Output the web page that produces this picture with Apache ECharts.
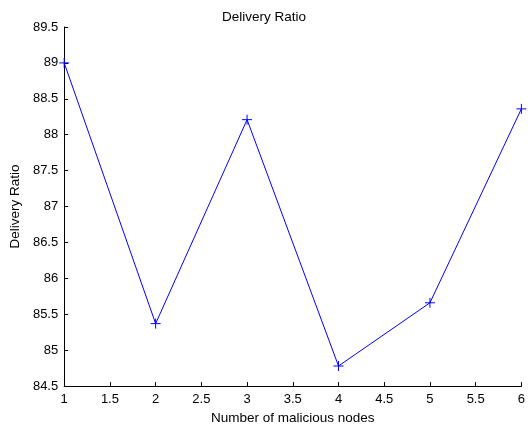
<!DOCTYPE html>
<html>
<head>
<meta charset="utf-8">
<script src="https://cdn.jsdelivr.net/npm/echarts@6/dist/echarts.min.js"></script>
<style>
  html, body { margin: 0; padding: 0; background: #fff; }
  #chart { width: 528px; height: 430px; }
</style>
</head>
<body>
<div id="chart"></div>
<script>
// Number of malicious nodes vs delivery ratio
const maliciousNodes = [1, 2, 3, 4, 5, 6];
const deliveryRatio = [89.0, 85.37, 88.21, 84.78, 85.66, 88.36];

const chart = echarts.init(document.getElementById('chart'));
const font = 'Liberation Sans, Arial, sans-serif';

chart.setOption({
  animation: false,
  backgroundColor: '#fff',
  title: {
    text: 'Delivery Ratio',
    left: 'center',
    top: 5,
    textStyle: { fontFamily: font, fontSize: 13.5, fontWeight: 'normal', color: '#000' }
  },
  grid: { left: 62, right: 5, top: 27, bottom: 41, containLabel: false },
  xAxis: {
    type: 'value',
    min: 1, max: 6, interval: 0.5,
    name: 'Number of malicious nodes',
    nameLocation: 'middle',
    nameGap: 24,
    nameTextStyle: { fontFamily: font, fontSize: 13.5, color: '#000' },
    axisLine: { lineStyle: { color: '#000', width: 1 } },
    axisTick: { inside: true, length: 4, lineStyle: { color: '#000' } },
    axisLabel: { fontFamily: font, fontSize: 13, color: '#000', margin: 7 },
    splitLine: { show: false }
  },
  yAxis: {
    type: 'value',
    min: 84.5, max: 89.5, interval: 0.5,
    name: 'Delivery Ratio',
    nameLocation: 'middle',
    nameGap: 37,
    nameRotate: 90,
    nameTextStyle: { fontFamily: font, fontSize: 13.5, color: '#000' },
    axisLine: { show: true, lineStyle: { color: '#000', width: 1 } },
    axisTick: { show: true, inside: true, length: 4, lineStyle: { color: '#000' } },
    axisLabel: { fontFamily: font, fontSize: 13, color: '#000', margin: 6 },
    splitLine: { show: false }
  },
  series: [{
    type: 'line',
    data: maliciousNodes.map((x, i) => [x, deliveryRatio[i]]),
    lineStyle: { color: '#0000ff', width: 1 },
    symbol: 'path://M0,5L10,5M5,0L5,10',
    symbolSize: 10,
    itemStyle: { color: 'none', borderColor: '#0000ff', borderWidth: 1 },
    clip: false
  }]
});
</script>
</body>
</html>
